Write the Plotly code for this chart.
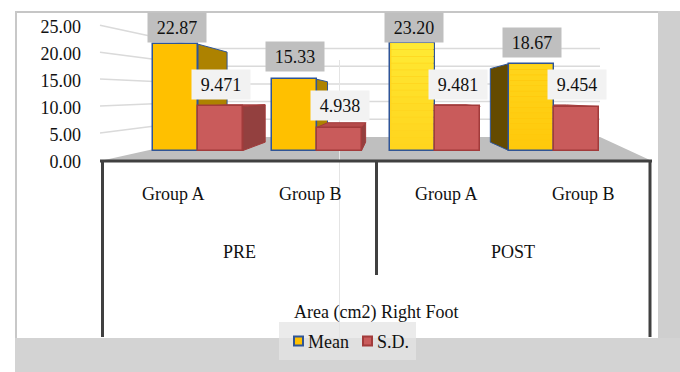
import plotly.graph_objects as go

# ---- data -------------------------------------------------------------
periods = ["PRE", "PRE", "POST", "POST"]
groups = ["Group A", "Group B", "Group A", "Group B"]
mean_vals = [22.87, 15.33, 23.20, 18.67]
sd_vals = [9.471, 4.938, 9.481, 9.454]
y_ticks = [0, 5, 10, 15, 20, 25]
series_names = ["Mean", "S.D."]
chart_title = "Area (cm2) Right Foot"

# ---- canvas / pseudo-3D geometry (screen pixels) -----------------------
W, H = 680, 372
FONT = "Liberation Serif, Times New Roman, serif"
FS = 18
TXT = "#111111"

ZERO_PX = 150.5        # screen row of the bar bases
PX_PER_UNIT = 4.65     # bar scale, pixels per unit
VP = (388.0, 96.0)     # vanishing point of the perspective
DEPTH = -0.153         # back edge = front + DEPTH * (front - VP)
CLUSTER_X0, CLUSTER_STEP, BAR_W = 198.0, 118.6, 45.0

TICK_ZERO_PX, TICK_PX_PER_UNIT = 161.3, 5.38   # wall scale for the tick labels
BACK_ZERO_PX, BACK_PX_PER_UNIT = 137.0, 3.54   # back wall scale
WALL_X0, WALL_X1, BACK_X1, FLOOR_X1 = 100.0, 208.0, 600.0, 652.0
AXIS_Y = 161.0
DIV_LEFT, DIV_MID, DIV_RIGHT = 102.5, 376.5, 650.0

MEAN_FILL = ["#FFC000", "#FFC000", "#FFD51E", "#FFC90C"]
MEAN_GLOSS = [0.0, 0.0, 1.0, 0.45]     # strength of the top highlight per bar
MEAN_EDGE = "#2F5597"
MEAN_RIGHT_FACE = "#AD8200"
MEAN_LEFT_FACE = "#644A00"
SD_FILL = "#C95B5B"
SD_EDGE = "#A23B3B"
SD_TOP = "#B54B4B"
SD_SIDE = "#93403F"

MEAN_LABEL_LIFT = [16.5, 22.5, 15.0, 21.5]
SD_LABEL_LIFT = 22.0


def px_to_val(py_):
    return (ZERO_PX - py_) / PX_PER_UNIT


def val_to_px(v):
    return ZERO_PX - PX_PER_UNIT * v


def back(xp, yp):
    return xp + DEPTH * (xp - VP[0]), yp + DEPTH * (yp - VP[1])


def px(x):
    return x / W


def py(y):
    return 1 - y / H


def paper_path(pts):
    return "M " + " L ".join(f"{px(x):.5f},{py(y):.5f}" for x, y in pts) + " Z"


def data_path(pts):
    # pts in (screen x, screen y); x axis is in pixels, y axis in values
    return "M " + " L ".join(f"{x:.3f},{px_to_val(y):.4f}" for x, y in pts) + " Z"


shapes = []


def add_rect(x0, y0, x1, y1, fill, layer="below"):
    shapes.append(dict(type="rect", xref="paper", yref="paper",
                       x0=px(x0), x1=px(x1), y0=py(y1), y1=py(y0),
                       fillcolor=fill, line=dict(width=0), layer=layer))


def add_line(x0, y0, x1, y1, color, width):
    shapes.append(dict(type="line", xref="paper", yref="paper",
                       x0=px(x0), x1=px(x1), y0=py(y0), y1=py(y1),
                       line=dict(color=color, width=width), layer="below"))


def text_at(x, y, text, xanchor="center"):
    return dict(x=px(x), y=py(y), xref="paper", yref="paper", text=text,
                showarrow=False, xanchor=xanchor, yanchor="middle",
                font=dict(family=FONT, size=FS, color=TXT))


# outer frame
add_rect(658, 11, 680, 372, "#CFCFCF")
add_rect(15, 338, 680, 372, "#D3D3D3")
add_line(15, 12, 658, 12, "#C6C6C6", 2)
add_line(16, 11, 16, 338, "#C8C8C8", 2)

# floor
shapes.append(dict(type="path", xref="paper", yref="paper",
                   path=paper_path([(WALL_X0, AXIS_Y), (FLOOR_X1, AXIS_Y),
                                    (BACK_X1, BACK_ZERO_PX), (WALL_X1, BACK_ZERO_PX)]),
                   fillcolor="#BFBFBF", line=dict(width=0), layer="below"))

# gridlines: side wall slants into the back wall
for t in y_ticks[1:]:
    y_front = TICK_ZERO_PX - 1.5 - TICK_PX_PER_UNIT * t
    y_back = BACK_ZERO_PX - BACK_PX_PER_UNIT * t
    add_line(WALL_X0, y_front, WALL_X1, y_back, "#DADADA", 1.5)
    add_line(WALL_X1, y_back, BACK_X1, y_back, "#DADADA", 1.5)

# faint seam
add_line(339.5, 60, 339.5, 338, "#E4E4E4", 1)

# category frame
add_line(WALL_X0, AXIS_Y, FLOOR_X1, AXIS_Y, "#404040", 3)
add_line(DIV_LEFT, AXIS_Y, DIV_LEFT, 337, "#404040", 3)
add_line(DIV_MID, AXIS_Y, DIV_MID, 275, "#404040", 3)
add_line(DIV_RIGHT, AXIS_Y, DIV_RIGHT, 337, "#404040", 3)

# ---- bar depth faces, built from the values --------------------------
centers = [CLUSTER_X0 + CLUSTER_STEP * i for i in range(len(groups))]
mean_x = [c - BAR_W / 2 for c in centers]
sd_x = [c + BAR_W / 2 for c in centers]


def faces(xc, v, side_right, side_left, top, edge):
    xl, xr = xc - BAR_W / 2, xc + BAR_W / 2
    yt, yb = val_to_px(v), val_to_px(0)
    out = []
    if xr < VP[0] and side_right:
        out.append(([(xr, yt), back(xr, yt), back(xr, yb), (xr, yb)], side_right))
    if xl > VP[0] and side_left:
        out.append(([(xl, yt), back(xl, yt), back(xl, yb), (xl, yb)], side_left))
    if yt > VP[1] and top:
        out.append(([(xl, yt), (xr, yt), back(xr, yt), back(xl, yt)], top))
    for pts, col in out:
        shapes.append(dict(type="path", xref="x", yref="y", path=data_path(pts),
                           fillcolor=col, line=dict(color=edge, width=1), layer="below"))


for xc, v in zip(mean_x, mean_vals):
    faces(xc, v, MEAN_RIGHT_FACE, MEAN_LEFT_FACE, None, MEAN_EDGE)
for xc, v in zip(sd_x, sd_vals):
    faces(xc, v, SD_SIDE, None, SD_TOP, SD_EDGE)

# glossy highlight on the front of the brighter bars (fades towards the base)
N_STEPS = 16
for xc, v, g in zip(mean_x, mean_vals, MEAN_GLOSS):
    if g <= 0:
        continue
    for s in range(N_STEPS):
        f0, f1 = s / N_STEPS, (s + 1) / N_STEPS
        alpha = g * 0.75 * (1 - f0) ** 1.3
        shapes.append(dict(type="rect", xref="x", yref="y",
                           x0=xc - BAR_W / 2 + 1.2, x1=xc + BAR_W / 2 - 1.2,
                           y0=v * (1 - f1), y1=v * (1 - f0) - 0.15,
                           fillcolor=f"rgba(255,240,60,{alpha:.3f})",
                           line=dict(width=0), layer="above"))

# ---- front faces ------------------------------------------------------
fig = go.Figure()
fig.add_trace(go.Bar(x=mean_x, y=mean_vals, width=BAR_W, name=series_names[0],
                     marker=dict(color=MEAN_FILL, line=dict(color=MEAN_EDGE, width=1.5)),
                     showlegend=False, hoverinfo="skip"))
fig.add_trace(go.Bar(x=sd_x, y=sd_vals, width=BAR_W, name=series_names[1],
                     marker=dict(color=SD_FILL, line=dict(color=SD_EDGE, width=1.5)),
                     showlegend=False, hoverinfo="skip"))
# carrier for the value-axis tick labels
fig.add_trace(go.Scatter(x=[WALL_X0] * len(y_ticks), y=y_ticks, yaxis="y3", mode="markers",
                         marker=dict(opacity=0), showlegend=False, hoverinfo="skip"))

annotations = []
for xc, v, lift in zip(mean_x, mean_vals, MEAN_LABEL_LIFT):
    annotations.append(dict(x=xc + 1, y=v, xref="x", yref="y", text=f"{v:.2f}",
                            showarrow=False, xanchor="center", yanchor="middle", yshift=lift,
                            font=dict(family=FONT, size=FS, color=TXT),
                            bgcolor="#BFBFBF", width=56, height=27, borderpad=1))
for xc, v in zip(sd_x, sd_vals):
    annotations.append(dict(x=xc + 0.5, y=v, xref="x", yref="y", text=f"{v:.3f}",
                            showarrow=False, xanchor="center", yanchor="middle",
                            yshift=SD_LABEL_LIFT,
                            font=dict(family=FONT, size=FS, color=TXT),
                            bgcolor="#F2F2F2", width=56, height=27, borderpad=1))

# category labels (two levels)
level_starts = {"PRE": DIV_LEFT, "POST": DIV_MID}
level_halves = {"PRE": (DIV_MID - DIV_LEFT) / 2, "POST": (DIV_RIGHT - DIV_MID) / 2}
for i, (g, p) in enumerate(zip(groups, periods)):
    k = i % 2
    xg = level_starts[p] + level_halves[p] * (k + 0.5) + 2
    annotations.append(text_at(xg, 194, g))
for p in ["PRE", "POST"]:
    annotations.append(text_at(level_starts[p] + level_halves[p], 252, p))
annotations.append(text_at(376, 312, chart_title))

# legend
add_rect(279, 322, 416, 360, "rgba(228,228,228,0.75)")
legend_items = [(series_names[0], "#FFC000", MEAN_EDGE, 293.0),
                (series_names[1], SD_FILL, SD_EDGE, 362.0)]
for name, fill, edge, x0 in legend_items:
    shapes.append(dict(type="rect", xref="paper", yref="paper",
                       x0=px(x0 + 1), x1=px(x0 + 10), y0=py(345.5), y1=py(336.5),
                       fillcolor=fill, line=dict(color=edge, width=2), layer="above"))
    annotations.append(text_at(x0 + 12.5, 341.5, name, xanchor="left"))

fig.update_layout(
    width=W, height=H,
    margin=dict(l=0, r=0, t=0, b=0),
    paper_bgcolor="white", plot_bgcolor="rgba(0,0,0,0)",
    barmode="overlay", bargap=0,
    xaxis=dict(range=[0, W], visible=False, fixedrange=True),
    yaxis=dict(range=[px_to_val(H), px_to_val(0)], visible=False, fixedrange=True),
    yaxis3=dict(range=[(TICK_ZERO_PX - H) / TICK_PX_PER_UNIT, TICK_ZERO_PX / TICK_PX_PER_UNIT],
                overlaying="y", anchor="free", position=px(81), side="left",
                tickvals=y_ticks, ticktext=[f"{t:.2f}" for t in y_ticks],
                showgrid=False, zeroline=False, showline=False, ticks="",
                tickfont=dict(family=FONT, size=FS, color=TXT), fixedrange=True),
    shapes=shapes,
    annotations=annotations,
    showlegend=False,
)

fig.write_html("out.html")
